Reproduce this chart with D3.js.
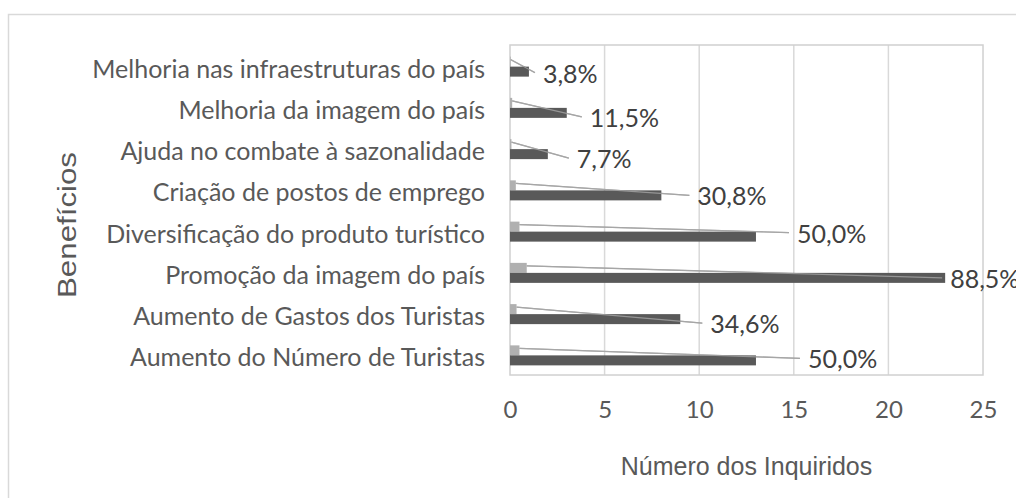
<!DOCTYPE html>
<html>
<head>
<meta charset="utf-8">
<script src="https://cdn.jsdelivr.net/npm/d3@7/dist/d3.min.js"></script>
<style>
  html, body { margin: 0; padding: 0; background: #ffffff; }
  svg { display: block; }
</style>
</head>
<body>
<svg id="chart" width="1016" height="498"></svg>
<script>
// ---- data ----
const categories = [
  "Melhoria nas infraestruturas do país",
  "Melhoria da imagem do país",
  "Ajuda no combate à sazonalidade",
  "Criação de postos de emprego",
  "Diversificação do produto turístico",
  "Promoção da imagem do país",
  "Aumento de Gastos dos Turistas",
  "Aumento do Número de Turistas"
];
const counts = [1, 3, 2, 8, 13, 23, 9, 13];
const shares = [0.038, 0.115, 0.077, 0.308, 0.500, 0.885, 0.346, 0.500];
const shareLabels = ["3,8%", "11,5%", "7,7%", "30,8%", "50,0%", "88,5%", "34,6%", "50,0%"];
const xTicks = [0, 5, 10, 15, 20, 25];
const xTitle = "Número dos Inquiridos";
const yTitle = "Benefícios";

// ---- layout (manually placed label nudges, as in the original) ----
const labelDx = [14, 23, 29, 36, 41, 5, 30, 52];
const labelDy = [7, 10, 10, 6, 2, 6, 10, 4];

const bodyFont = "Lato, 'Open Sans', sans-serif";
const titleFont = "'Liberation Sans', Arial, sans-serif";

const svg = d3.select("#chart");
const plot = { left: 510, right: 983, top: 45, bottom: 375 };

// outer frame
svg.append("rect")
  .attr("x", 8.5).attr("y", 14.5)
  .attr("width", 1100).attr("height", 600)
  .attr("fill", "none").attr("stroke", "#d9d9d9").attr("stroke-width", 1.5);

const x = d3.scaleLinear().domain([0, 25]).range([plot.left, plot.right]);
const y = d3.scaleBand().domain(categories).range([plot.top, plot.bottom]);

// gridlines
svg.append("g").selectAll("line")
  .data(xTicks.slice(1, -1))
  .join("line")
  .attr("x1", d => x(d)).attr("x2", d => x(d))
  .attr("y1", plot.top).attr("y2", plot.bottom)
  .attr("stroke", "#d9d9d9").attr("stroke-width", 1.5);

// plot frame
svg.append("rect")
  .attr("x", plot.left).attr("y", plot.top)
  .attr("width", plot.right - plot.left).attr("height", plot.bottom - plot.top)
  .attr("fill", "none").attr("stroke", "#d0d0d0").attr("stroke-width", 1.5);

const rows = categories.map((c, i) => ({
  cat: c, count: counts[i], share: shares[i], label: shareLabels[i], i
}));
const cy = d => y(d.cat) + y.bandwidth() / 2;
const barH = 10;

const labelX = d => x(d.count) + labelDx[d.i];
const labelY = d => cy(d) + labelDy[d.i];

// leader lines (under bars)
svg.append("g").selectAll("line")
  .data(rows)
  .join("line")
  .attr("x1", d => x(d.share))
  .attr("y1", d => cy(d) - 6)
  .attr("x2", d => labelX(d) - 8)
  .attr("y2", d => labelY(d))
  .attr("stroke", "#a6a6a6").attr("stroke-width", 1.3);

// light bars (share)
svg.append("g").selectAll("rect")
  .data(rows)
  .join("rect")
  .attr("x", x(0))
  .attr("y", d => cy(d) - barH + 1)
  .attr("width", d => x(d.share) - x(0))
  .attr("height", barH)
  .attr("fill", "#b0b0b0");

// dark bars (count)
svg.append("g").selectAll("rect")
  .data(rows)
  .join("rect")
  .attr("x", x(0))
  .attr("y", d => cy(d) + 1)
  .attr("width", d => x(d.count) - x(0))
  .attr("height", barH)
  .attr("fill", "#595959");

// leader lines drawn over bars
svg.append("g").selectAll("line")
  .data(rows)
  .join("line")
  .attr("x1", d => x(d.share))
  .attr("y1", d => cy(d) - 6)
  .attr("x2", d => labelX(d) - 8)
  .attr("y2", d => labelY(d))
  .attr("stroke", "#a6a6a6").attr("stroke-width", 1.1).attr("opacity", 0.8);

// data labels
svg.append("g").selectAll("text")
  .data(rows)
  .join("text")
  .attr("x", labelX)
  .attr("y", labelY)
  .attr("dominant-baseline", "central")
  .attr("font-family", bodyFont)
  .attr("font-size", 25)
  .attr("fill", "#404040")
  .text(d => d.label);

// category labels
svg.append("g").selectAll("text")
  .data(rows)
  .join("text")
  .attr("x", 485)
  .attr("y", d => cy(d) + 2)
  .attr("text-anchor", "end")
  .attr("dominant-baseline", "central")
  .attr("font-family", bodyFont)
  .attr("font-size", 25)
  .attr("fill", "#595959")
  .text(d => d.cat);

// x axis tick labels
const xAxis = d3.axisBottom(x).tickValues(xTicks).tickSize(0).tickPadding(0);
const gx = svg.append("g").attr("transform", `translate(0, ${plot.bottom + 26})`).call(xAxis);
gx.select(".domain").remove();
gx.selectAll("text")
  .attr("font-family", bodyFont)
  .attr("font-size", 24)
  .attr("fill", "#595959");

// axis titles
svg.append("text")
  .attr("x", (plot.left + plot.right) / 2)
  .attr("y", 466)
  .attr("text-anchor", "middle")
  .attr("dominant-baseline", "central")
  .attr("font-family", titleFont)
  .attr("font-size", 25)
  .attr("fill", "#595959")
  .text(xTitle);

svg.append("text")
  .attr("transform", "translate(67, 225) rotate(-90)")
  .attr("text-anchor", "middle")
  .attr("dominant-baseline", "central")
  .attr("font-family", titleFont)
  .attr("font-size", 25)
  .attr("textLength", 146)
  .attr("lengthAdjust", "spacingAndGlyphs")
  .attr("fill", "#595959")
  .text(yTitle);
</script>
</body>
</html>
